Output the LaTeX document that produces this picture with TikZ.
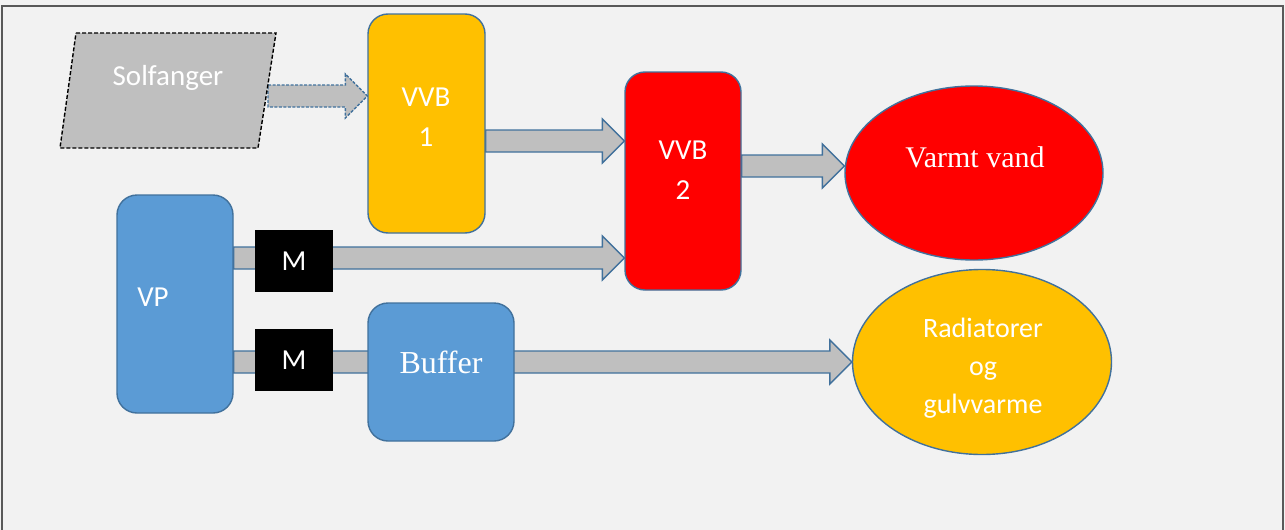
\documentclass[tikz,border=0pt]{standalone}
\usepackage{fontspec}
\setmainfont{Liberation Serif}
\setsansfont{Carlito}
\usetikzlibrary{shapes.geometric,calc}
\definecolor{bgc}{HTML}{F2F2F2}
\definecolor{framec}{HTML}{595959}
\definecolor{edgec}{HTML}{41719C}
\definecolor{arrowfill}{HTML}{BFBFBF}
\definecolor{bluebox}{HTML}{5B9BD5}
\definecolor{orangebox}{HTML}{FFC000}
\definecolor{redbox}{HTML}{FF0000}
\pgfdeclarelayer{back}
\pgfdeclarelayer{arrows}
\pgfsetlayers{back,arrows,main}
\tikzset{
  rbox/.style={draw=edgec, line width=1.4pt, rounded corners=20pt, inner sep=0pt},
  ovalbox/.style={ellipse, draw=edgec, line width=1.4pt, inner sep=0pt},
  mbox/.style={fill=black, minimum width=78pt, minimum height=62pt, inner sep=0pt, text=white, font=\sffamily\fontsize{29}{30}\selectfont},
  wsans/.style={text=white, font=\sffamily\fontsize{29}{40}\selectfont, align=center},
  wserif/.style={text=white, font=\rmfamily\fontsize{30}{34}\selectfont, align=center},
  barrow/.style={fill=arrowfill, draw=edgec, line width=1.4pt, line join=miter},
  dbarrow/.style={barrow, dash pattern=on 3pt off 1.5pt},
}
\newcommand{\blockarrow}[3][]{%
  \draw[barrow,#1] let \p1=(#2), \p2=(#3) in
    (\x1,\y1+11pt) -- (\x2-22pt,\y1+11pt) -- (\x2-22pt,\y1+22pt) -- (\x2,\y1)
    -- (\x2-22pt,\y1-22pt) -- (\x2-22pt,\y1-11pt) -- (\x1,\y1-11pt) -- cycle;}
\begin{document}
\begin{tikzpicture}[x=1pt,y=-1pt]
\useasboundingbox (0,0) rectangle (1285,530);
\begin{pgfonlayer}{back}
\fill[bgc] (0,0) rectangle (1285,530);
\draw[framec, line width=1.5pt] (2,535) -- (2,6) -- (1283,6) -- (1283,535);
\end{pgfonlayer}

% Solfanger parallelogram
\draw[fill=arrowfill, draw=black, line width=1.4pt, dash pattern=on 4pt off 2pt]
  (76,33) -- (276,33) -- (258,148) -- (60,148) -- cycle;
\coordinate (solf) at (168,90);
\node[wsans] (solftxt) at (168,78) {Solfanger};
\coordinate (solfR) at (268,96);

% boxes
\node[rbox, fill=orangebox, minimum width=117pt, minimum height=219pt] (vvb1) at (426.5,123.5) {};
\node[wsans] (vvb1txt) at (426,117) {VVB\\1};
\node[rbox, fill=redbox, minimum width=116pt, minimum height=218pt] (vvb2) at (683,181) {};
\node[wsans] (vvb2txt) at (683,170) {VVB\\2};
\node[rbox, fill=bluebox, minimum width=116pt, minimum height=218pt] (vp) at (175,304) {};
\node[wsans] (vptxt) at (153,297) {VP};
\node[rbox, fill=bluebox, minimum width=146pt, minimum height=138pt] (buffer) at (441,372) {};
\node[wserif, font=\rmfamily\fontsize{32}{34}\selectfont] (buftxt) at (441,362) {Buffer};
\node[mbox] (m1) at (294,261) {M};
\node[mbox] (m2) at (294,360) {M};

% ellipses
\node[ovalbox, fill=redbox, minimum width=258pt, minimum height=174pt] (varm) at (974,173) {};
\node[wserif] (varmtxt) at (975,157) {Varmt vand};
\node[ovalbox, fill=orangebox, minimum width=259pt, minimum height=185pt] (rad) at (982,362) {};
\node[wsans, font=\sffamily\fontsize{28}{38}\selectfont] (radtxt) at (983,368) {Radiatorer\\og\\gulvvarme};

% connectors
\begin{pgfonlayer}{arrows}
\blockarrow[dbarrow]{solfR}{vvb1.west |- solfR}
\blockarrow{vvb1.east |- 0,141}{vvb2.west |- 0,141}
\blockarrow{vvb2.east |- 0,166}{varm.west |- 0,166}
\blockarrow{vp.east |- 0,258}{vvb2.west |- 0,258}
\blockarrow{vp.east |- 0,362}{rad.west |- 0,362}
\end{pgfonlayer}
\end{tikzpicture}
\end{document}
